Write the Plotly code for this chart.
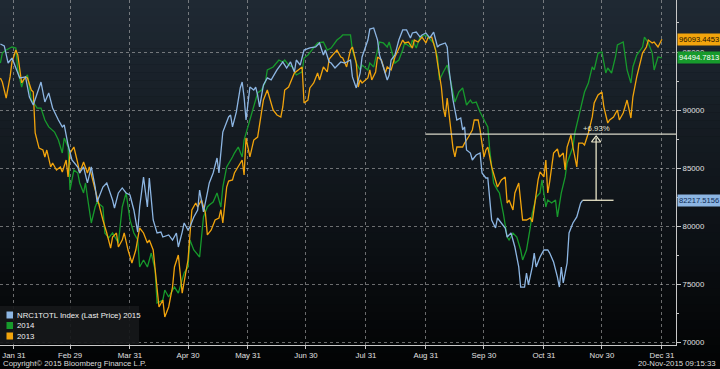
import plotly.graph_objects as go

# ---------------- data ----------------
# x = day of year on a leap-year axis, y = index level
series_2015 = [(24,95690),(26,95520),(28,94050),(30,94480),(34,92760),(37,92850),(39,91120),(41,90430),(45,92410),(47,90690),(49,91470),(51,90170),(54,89140),(56,88540),(57,88710),(59,86980),(61,85690),(64,85090),(65,84570),(67,85090),(69,83710),(71,85090),(73,83360),(74,82070),(77,83360),(79,83710),(82,82240),(83,81550),(85,82850),(87,83280),(89,82850),(91,82670),(93,81380),(95,79480),(96,81640),(98,84220),(100,81640),(101,84140),(103,80520),(105,79400),(107,79480),(108,79050),(111,79230),(113,78790),(115,79400),(116,78190),(118,79480),(119,80260),(121,79660),(122,79920),(124,80780),(126,81380),(127,83100),(129,81210),(131,82850),(132,83710),(134,84570),(136,85860),(137,84570),(139,88100),(142,89400),(143,89570),(144,88540),(146,89830),(148,91900),(149,92410),(150,91120),(151,89140),(153,91980),(155,91720),(156,91980),(157,91290),(158,90260),(160,92160),(162,92760),(164,92590),(167,93450),(170,94140),(172,93620),(174,94140),(176,93280),(177,94310),(179,93880),(181,95170),(184,95350),(187,95430),(189,95780),(191,94740),(192,95170),(194,94140),(195,94050),(197,93620),(200,94140),(202,94050),(205,94310),(206,92850),(208,91900),(210,93190),(211,94570),(214,96030),(215,96980),(217,97070),(219,96030),(220,94740),(222,93710),(224,92590),(225,93020),(226,94310),(228,94740),(230,96030),(232,96900),(234,96900),(236,96210),(237,96640),(239,96720),(241,96290),(242,96470),(244,96640),(246,96210),(248,96720),(250,95430),(251,95600),(254,95780),(255,95430),(256,93450),(258,90860),(260,89140),(262,89310),(263,88280),(264,88540),(265,86550),(267,86290),(268,85690),(270,86120),(272,86290),(273,84570),(275,84140),(276,84140),(278,80520),(280,79830),(281,80690),(283,80260),(285,79830),(286,79050),(288,79400),(290,78190),(292,76470),(293,74740),(295,74740),(296,75950),(297,74920),(299,76470),(300,77670),(301,76470),(303,77330),(305,77930),(307,77930),(308,77670),(310,76900),(312,75600),(313,74740),(314,76470),(315,75090),(317,76810),(318,79400),(320,80260),(322,80780),(324,81980),(325,82217.5156)]

series_2014 = [(24,94050),(25,94910),(27,95170),(30,95430),(32,95340),(33,93450),(35,91980),(36,92590),(38,93020),(40,90860),(42,90430),(43,90170),(45,90170),(47,89140),(49,88540),(51,88280),(52,88100),(54,87410),(56,86290),(57,87590),(59,86810),(60,83100),(62,84830),(64,84570),(65,83710),(67,82850),(68,83710),(69,82500),(71,80260),(73,81640),(74,82070),(77,81640),(78,79400),(80,78970),(82,79400),(85,78540),(87,81640),(89,82850),(91,80520),(93,79400),(95,78790),(96,76470),(98,77070),(100,76470),(102,77670),(104,76210),(105,73360),(108,73620),(109,74480),(111,73880),(113,74480),(114,74740),(116,74220),(118,75350),(119,75950),(121,76470),(122,78790),(124,77930),(126,77500),(127,77330),(129,80780),(131,81640),(132,81810),(134,82070),(136,82850),(138,81640),(139,83360),(141,85090),(144,85950),(145,86290),(147,86810),(149,85950),(150,87410),(152,88540),(154,89740),(156,90860),(157,91470),(159,91720),(161,92410),(162,93450),(165,93710),(168,94310),(170,94140),(171,94310),(173,93880),(175,93710),(177,93020),(180,93280),(181,94480),(183,94740),(186,95340),(188,95780),(191,95860),(193,95170),(195,95340),(198,96030),(200,96290),(201,96470),(205,96470),(206,95170),(208,94050),(210,93450),(211,93880),(214,93450),(215,94050),(217,93710),(219,95170),(220,95860),(222,95780),(224,95430),(225,95860),(228,94050),(230,94310),(232,95170),(233,95780),(236,95430),(237,96030),(239,95340),(241,96290),(244,96470),(245,96290),(248,95780),(250,94570),(251,92590),(253,93280),(255,93880),(257,92330),(259,90690),(261,91550),(263,91900),(265,90430),(267,90860),(268,90600),(270,90690),(272,89830),(274,89140),(276,88540),(277,86550),(279,83710),(281,83100),(282,82850),(284,81120),(286,79050),(287,78790),(289,79400),(291,79050),(293,77930),(294,77070),(296,77930),(298,79920),(299,81120),(301,82500),(303,82850),(304,83970),(306,81640),(307,82240),(309,81980),(311,82240),(312,80780),(314,82850),(316,84230),(317,85430),(320,86810),(321,88020),(323,89400),(325,90600),(326,91550),(328,92330),(330,93710),(331,93450),(333,94910),(335,95000),(337,93190),(338,93620),(340,93190),(342,94570),(343,95600),(346,95860),(348,93450),(350,92330),(351,93710),(353,94740),(356,95430),(357,96290),(359,95780),(361,94910),(362,93450),(364,94570),(366,94494.7813)]

series_2013 = [(24,92760),(25,92410),(27,91030),(29,92850),(30,94140),(32,95170),(33,94740),(34,93450),(35,92330),(37,92850),(38,92760),(40,91720),(41,91550),(42,88020),(43,87410),(44,86720),(46,86550),(47,85950),(48,86550),(50,85090),(51,85430),(53,84830),(55,85090),(56,84660),(58,85690),(59,84230),(60,86290),(62,86810),(64,85430),(65,84570),(67,85520),(69,84570),(70,85090),(72,83710),(74,82500),(75,81640),(77,80520),(79,79400),(81,78100),(82,79050),(84,79400),(85,78190),(87,78790),(88,79400),(90,77930),(92,76810),(94,77930),(96,79830),(98,79400),(100,78540),(101,78790),(103,77930),(105,74740),(106,73020),(108,73620),(109,72160),(111,73020),(113,74740),(114,76470),(116,77500),(118,74220),(119,75090),(121,77070),(123,81380),(125,81980),(126,81640),(128,82240),(130,81120),(131,79230),(133,79660),(135,80520),(137,80690),(138,81400),(139,80260),(141,83360),(142,83880),(144,83970),(145,84570),(147,85090),(149,85690),(150,84400),(151,87590),(153,85950),(155,87410),(157,87670),(158,88880),(160,90860),(162,91720),(163,91120),(165,90000),(167,89570),(169,89400),(170,90260),(171,91720),(173,91980),(175,92850),(176,93190),(178,93450),(180,93710),(181,90600),(183,90860),(184,91900),(186,92330),(188,93190),(189,92590),(191,93710),(193,93280),(194,94400),(196,94830),(198,95170),(200,94570),(201,94480),(203,93710),(205,95170),(206,95430),(208,94050),(209,91980),(210,92590),(211,92330),(214,92760),(215,93450),(216,92590),(218,93280),(219,94570),(221,94310),(223,93190),(224,93710),(226,93450),(228,94570),(230,95340),(232,96030),(233,95780),(235,95860),(237,95340),(238,96030),(240,95860),(242,96290),(244,95780),(245,96210),(247,96290),(249,95170),(250,94050),(252,91980),(253,90170),(254,89400),(255,91030),(256,89740),(257,88280),(258,86720),(259,85950),(260,86810),(263,86810),(264,87150),(266,87670),(268,88280),(269,89140),(271,89140),(272,88280),(274,85950),(275,86550),(276,86810),(278,85090),(280,83970),(281,83360),(283,83970),(285,84230),(286,81980),(287,82240),(289,81380),(290,82850),(292,83710),(293,82240),(294,80520),(296,80520),(298,80690),(299,80350),(300,81640),(302,83970),(303,84660),(305,84230),(306,85690),(307,82850),(308,83830),(310,86290),(312,86640),(313,85950),(315,86290),(316,84830),(317,86810),(319,87840),(320,86810),(322,85090),(323,87150),(325,87150),(326,86980),(328,88020),(330,89400),(331,90600),(333,91290),(335,91550),(336,90260),(338,88880),(339,89140),(341,89400),(343,90000),(344,89140),(346,89740),(348,90860),(350,89310),(351,91120),(353,92850),(355,94310),(356,94910),(358,95430),(359,96030),(361,95780),(362,95860),(364,95430),(365,95780),(366,96093.4453)]

series_names = ["NRC1TOTL Index (Last Price) 2015", "2014", "2013"]
series_colors = ["#8db6e3", "#179a2c", "#f2a40c"]
label_font_colors = ["#0c2a55", "#ffffff", "#1a1200"]

tick_days = [31, 60, 91, 121, 152, 182, 213, 244, 274, 305, 335, 366]
tick_text = ["Jan 31", "Feb 29", "Mar 31", "Apr 30", "May 31", "Jun 30",
             "Jul 31", "Aug 31", "Sep 30", "Oct 31", "Nov 30", "Dec 31"]
y_ticks = [70000, 75000, 80000, 85000, 90000, 95000]

# measurement annotation
pct_change = 6.93
measure_start_day = 244      # left end of the reference line
measure_arrow_day = 332
measure_base_end_day = 341

# ---------------- layout geometry ----------------
W, H = 720, 369
ML, MR, MT, MB = 0, 44, 0, 24
PW, PH = W - ML - MR, H - MT - MB

def px(x):
    return (x - ML) / PW

def py(y):
    return (H - MB - y) / PH

FONT = "Liberation Sans, Arial, sans-serif"
FS = 7.8

fig = go.Figure()

# background gradient (dark slate at top to black at bottom)
shapes = []
N = 46
top = (31, 41, 51)
bot = (2, 3, 4)
for i in range(N):
    t = i / (N - 1)
    c = tuple(int(round(top[k] + (bot[k] - top[k]) * t)) for k in range(3))
    y0 = i * H / N
    y1 = (i + 1) * H / N + 0.5
    shapes.append(dict(type="rect", xref="paper", yref="paper",
                       x0=px(-2), x1=px(W + 2), y0=py(y1), y1=py(y0),
                       fillcolor="rgb(%d,%d,%d)" % c, line=dict(width=0),
                       layer="below"))

all_series = [series_2015, series_2014, series_2013]
draw_order = [1, 2, 0]
for idx in draw_order:
    s = all_series[idx]
    fig.add_trace(go.Scatter(
        x=[p[0] for p in s], y=[p[1] for p in s], mode="lines",
        line=dict(color=series_colors[idx], width=1.3),
        name=series_names[idx], showlegend=False, hoverinfo="skip"))

# measurement lines
base_val = series_2015[-1][1]
base_day = series_2015[-1][0]
target_val = base_val * (1 + pct_change / 100)
shapes.append(dict(type="line", xref="x", yref="y", x0=measure_start_day,
                   x1=380, y0=target_val, y1=target_val,
                   line=dict(color="#d8d8c8", width=1.3)))
shapes.append(dict(type="line", xref="x", yref="y", x0=base_day,
                   x1=measure_base_end_day, y0=base_val, y1=base_val,
                   line=dict(color="#e8e4c8", width=1.3)))
shapes.append(dict(type="line", xref="x", yref="y", x0=measure_arrow_day,
                   x1=measure_arrow_day, y0=base_val, y1=target_val - 300,
                   line=dict(color="#e8e4c8", width=1.3)))
fig.add_trace(go.Scatter(
    x=[measure_arrow_day], y=[target_val - 500], mode="markers",
    marker=dict(symbol="triangle-up-open", size=8,
                color="#e8e4c8", line=dict(width=1.2, color="#e8e4c8")),
    showlegend=False, hoverinfo="skip"))

annotations = []
annotations.append(dict(x=measure_arrow_day, y=target_val, xref="x", yref="y",
                        text="+%.2f%%" % pct_change, showarrow=False,
                        yanchor="bottom", xanchor="center", yshift=-1,
                        font=dict(family=FONT, size=FS, color="#e0e0d0")))

# right-side last value tags
last_vals = [series_2015[-1][1], series_2014[-1][1], series_2013[-1][1]]
for i, v in enumerate(last_vals):
    annotations.append(dict(x=1, xref="paper", y=v, yref="y",
                            text="%.4f" % v, showarrow=False,
                            xanchor="left", yanchor="middle", xshift=1,
                            bgcolor=series_colors[i], borderpad=1,
                            font=dict(family=FONT, size=7.6,
                                      color=label_font_colors[i])))

# manual legend
shapes.append(dict(type="rect", xref="paper", yref="paper",
                   x0=px(0), x1=px(139), y0=py(344), y1=py(306),
                   fillcolor="rgba(22,24,26,0.92)", line=dict(width=0)))
leg_y = [315, 325.5, 336]
for i in range(3):
    shapes.append(dict(type="rect", xref="paper", yref="paper",
                       x0=px(6.5), x1=px(13), y0=py(leg_y[i] + 3.5),
                       y1=py(leg_y[i] - 3.5),
                       fillcolor=series_colors[i], line=dict(width=0)))
    annotations.append(dict(x=px(15), y=py(leg_y[i]), xref="paper",
                            yref="paper", text=series_names[i],
                            showarrow=False, xanchor="left",
                            yanchor="middle",
                            font=dict(family=FONT, size=FS, color="#f0f0f0")))

# footer texts
annotations.append(dict(x=px(1), y=py(363), xref="paper", yref="paper",
                        text="Copyright\u00a9 2015 Bloomberg Finance L.P.",
                        showarrow=False, xanchor="left", yanchor="middle",
                        font=dict(family=FONT, size=FS, color="#dcdcdc")))
annotations.append(dict(x=px(718), y=py(363), xref="paper", yref="paper",
                        text="20-Nov-2015 09:15:33",
                        showarrow=False, xanchor="right", yanchor="middle",
                        font=dict(family=FONT, size=FS, color="#dcdcdc")))

fig.update_layout(
    width=W, height=H,
    margin=dict(l=ML, r=MR, t=MT, b=MB, pad=0, autoexpand=False),
    paper_bgcolor="#000000", plot_bgcolor="rgba(0,0,0,0)",
    showlegend=False, shapes=shapes, annotations=annotations,
    font=dict(family=FONT, size=FS, color="#dcdcdc"),
    xaxis=dict(range=[23.8, 373.3], tickvals=tick_days, ticktext=tick_text,
               automargin=False,
               showgrid=True, gridcolor="rgba(190,190,190,0.55)",
               griddash="dot", gridwidth=1, zeroline=False,
               showline=True, linecolor="#c8c8c8", linewidth=1,
               ticks="outside", ticklen=3, tickcolor="#c8c8c8",
               tickfont=dict(family=FONT, size=FS, color="#e0e0e0")),
    yaxis=dict(range=[69743, 99482], side="right", tickvals=y_ticks,
               tickformat="d", automargin=False,
               showgrid=True, gridcolor="rgba(190,190,190,0.55)",
               griddash="dot", gridwidth=1, zeroline=False,
               showline=True, linecolor="#c8c8c8", linewidth=1,
               ticks="outside", ticklen=4, tickcolor="#c8c8c8",
               minor=dict(dtick=2500, tick0=67500, ticks="outside", ticklen=2,
                          tickcolor="#c8c8c8", showgrid=False),
               tickfont=dict(family=FONT, size=FS, color="#e0e0e0")),
)

fig.write_html("out.html",
               config={"displayModeBar": False, "staticPlot": True},
               post_script="document.body.style.margin='0';"
                           "document.body.style.background='#000';")
